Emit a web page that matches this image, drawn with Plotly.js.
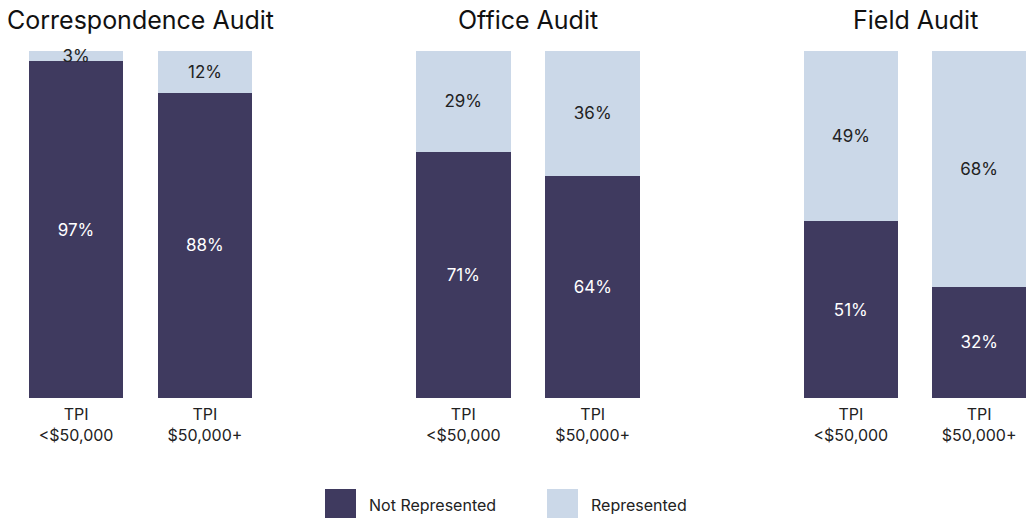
<!DOCTYPE html>
<html>
<head>
<meta charset="utf-8">
<script src="https://cdn.plot.ly/plotly-3.0.1.min.js"></script>
<style>html,body{margin:0;padding:0;background:#fff;}#chart{width:1026px;height:518px;}</style>
</head>
<body>
<div id="chart"></div>
<script>
const categories = ["TPI<br>&lt;$50,000", "TPI<br>$50,000+"];
const panelTitles = ["Correspondence Audit", "Office Audit", "Field Audit"];
const notRepresented = [[97, 88], [71, 64], [51, 32]];
const represented = [[3, 12], [29, 36], [49, 68]];
const seriesNames = ["Not Represented", "Represented"];

const DARK = "#3f3a5f";
const LIGHT = "#cbd8e8";
const FONT = "Inter, 'Noto Sans', sans-serif";

const W = 1026, H = 518, ML = 29, MR = 0, MT = 51, MB = 120;
const PW = W - ML - MR, PH = H - MT - MB;
const px = v => (v - ML) / PW;
const py = v => (H - MB - v) / PH;

const domains = [[px(29), px(252)], [px(416), px(640)], [px(804), px(1026)]];

const traces = [];
const layout = {
  width: W, height: H,
  margin: {l: ML, r: MR, t: MT, b: MB},
  paper_bgcolor: "#fff", plot_bgcolor: "#fff",
  barmode: "stack", bargap: 0.27,
  showlegend: false,
  font: {family: FONT, size: 16, color: "#222"},
  annotations: [], shapes: []
};

for (let i = 0; i < 3; i++) {
  const xa = i === 0 ? "x" : "x" + (i + 1);
  const ya = i === 0 ? "y" : "y" + (i + 1);
  traces.push({
    type: "bar", x: categories, y: notRepresented[i], name: seriesNames[0],
    xaxis: xa, yaxis: ya, marker: {color: DARK},
    texttemplate: "%{y}%", textposition: "inside", insidetextanchor: "middle",
    textangle: 0, constraintext: "none",
    textfont: {family: FONT, size: 17, color: "#ffffff"}, hoverinfo: "skip"
  });
  traces.push({
    type: "bar", x: categories, y: represented[i], name: seriesNames[1],
    xaxis: xa, yaxis: ya, marker: {color: LIGHT},
    texttemplate: "%{y}%", textposition: "inside", insidetextanchor: "middle",
    textangle: 0, constraintext: "none",
    textfont: {family: FONT, size: 17, color: "#222222"}, hoverinfo: "skip", cliponaxis: false
  });
  const xkey = i === 0 ? "xaxis" : "xaxis" + (i + 1);
  const ykey = i === 0 ? "yaxis" : "yaxis" + (i + 1);
  layout[xkey] = {
    domain: domains[i], anchor: ya, range: [-0.365, 1.365],
    showgrid: false, zeroline: false, showline: false, ticks: "",
    ticklabelstandoff: 5,
    tickfont: {family: FONT, size: 16, color: "#222"}, fixedrange: true
  };
  layout[ykey] = {
    domain: [0, 1], anchor: xa, range: [0, 100],
    visible: false, showgrid: false, zeroline: false, fixedrange: true
  };
  layout.annotations.push({
    xref: "paper", yref: "paper", x: (domains[i][0] + domains[i][1]) / 2, y: py(20),
    xanchor: "center", yanchor: "middle", showarrow: false,
    text: panelTitles[i], font: {family: FONT, size: 25, color: "#111"}
  });
}

// legend
const legendItems = [
  {x0: 325, x1: 356, color: DARK, text: seriesNames[0], tx: 367},
  {x0: 547, x1: 578, color: LIGHT, text: seriesNames[1], tx: 589}
];
legendItems.forEach(it => {
  layout.shapes.push({
    type: "rect", xref: "paper", yref: "paper",
    x0: px(it.x0), x1: px(it.x1), y0: py(489), y1: py(519),
    fillcolor: it.color, line: {width: 0}
  });
  layout.annotations.push({
    xref: "paper", yref: "paper", x: px(it.tx), y: py(505),
    xanchor: "left", yanchor: "middle", showarrow: false,
    text: it.text, font: {family: FONT, size: 16, color: "#222"}
  });
});

Plotly.newPlot("chart", traces, layout, {displayModeBar: false, staticPlot: true});
</script>
</body>
</html>
